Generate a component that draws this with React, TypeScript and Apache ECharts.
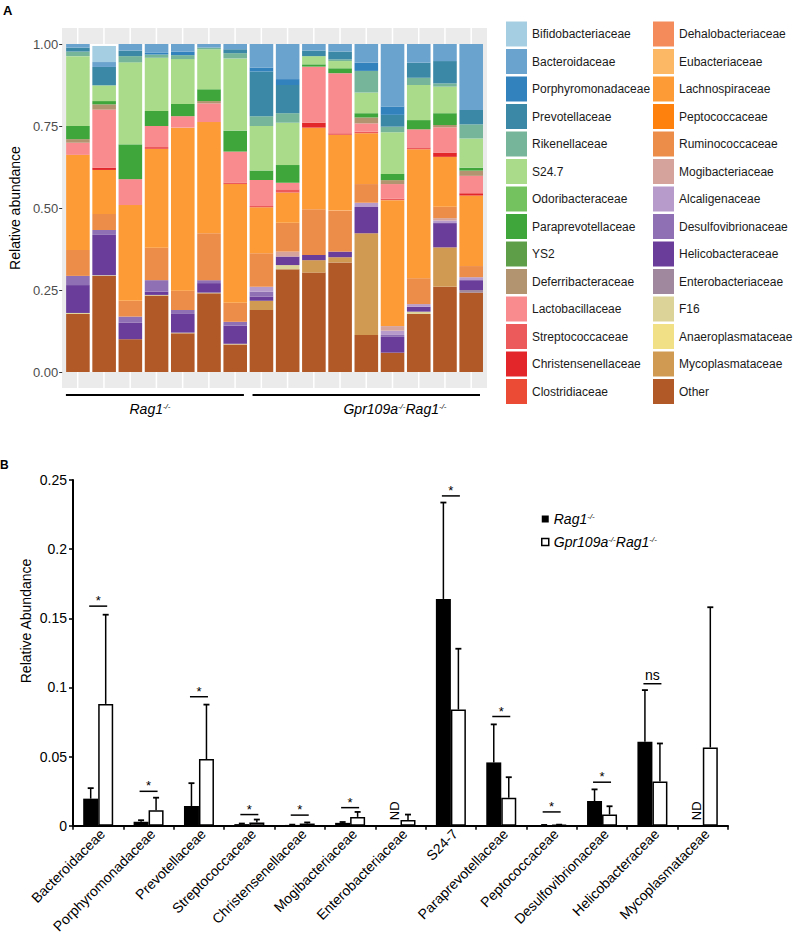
import React, { useEffect, useRef } from "react";
import * as echarts from "echarts";

const FONT = "'Liberation Sans', Arial, Helvetica, sans-serif";

// ---------- Panel A data ----------
const samplesA = [
  "Rag1-1", "Rag1-2", "Rag1-3", "Rag1-4", "Rag1-5", "Rag1-6", "Rag1-7",
  "Gpr-1", "Gpr-2", "Gpr-3", "Gpr-4", "Gpr-5", "Gpr-6", "Gpr-7", "Gpr-8", "Gpr-9",
];

const familyNames = [
  "Bifidobacteriaceae", "Bacteroidaceae", "Porphyromonadaceae", "Prevotellaceae",
  "Rikenellaceae", "S24.7", "Odoribacteraceae", "Paraprevotellaceae", "YS2",
  "Deferribacteraceae", "Lactobacillaceae", "Streptococcaceae", "Christensenellaceae",
  "Clostridiaceae", "Dehalobacteriaceae", "Eubacteriaceae", "Lachnospiraceae",
  "Peptococcaceae", "Ruminococcaceae", "Mogibacteriaceae", "Alcaligenaceae",
  "Desulfovibrionaceae", "Helicobacteraceae", "Enterobacteriaceae", "F16",
  "Anaeroplasmataceae", "Mycoplasmataceae", "Other",
];

const familyColors = [
  "#A6CEE3", "#6AA3CE", "#3282BE", "#3B88A6", "#76B599", "#AADB8B", "#74C25F",
  "#3EA63A", "#5F9E48", "#B39470", "#F98B8E", "#EC5A5C", "#E3262A", "#EB4A34",
  "#F38B5B", "#FDB865", "#FD9C36", "#FE810E", "#EC8D49", "#D5A39B", "#B69BCB",
  "#9070B4", "#6A3D9A", "#A0889E", "#DCD399", "#F1E086", "#D19A53", "#B15A28",
];

const bifidobacteriaceae = [0, 0.049, 0, 0, 0, 0, 0, 0, 0, 0, 0, 0, 0, 0, 0, 0];
const bacteroidaceae = [0.011, 0.015, 0.02, 0.027, 0.023, 0.011, 0.016, 0.072, 0.107, 0.02, 0.023, 0.057, 0.191, 0.057, 0.052, 0.201];
const porphyromonadaceae = [0, 0, 0, 0.005, 0.011, 0, 0, 0.012, 0.018, 0, 0, 0.025, 0.025, 0, 0, 0];
const prevotellaceae = [0.012, 0.056, 0.017, 0, 0, 0, 0.012, 0.136, 0.086, 0.017, 0.024, 0, 0.036, 0.046, 0.068, 0.044];
const rikenellaceae = [0.014, 0, 0.019, 0.01, 0.012, 0.005, 0.016, 0.03, 0.029, 0, 0.005, 0.066, 0.017, 0.022, 0.01, 0.043];
const s247 = [0.213, 0.048, 0.25, 0.162, 0.137, 0.122, 0.22, 0.136, 0.129, 0.025, 0.022, 0.063, 0.127, 0.107, 0.081, 0.089];
const odoribacteraceae = [0, 0, 0, 0, 0, 0, 0, 0, 0, 0, 0, 0, 0, 0, 0, 0];
const paraprevotellaceae = [0.04, 0.01, 0.106, 0.046, 0.037, 0.036, 0.064, 0.029, 0.054, 0.007, 0.015, 0.013, 0.019, 0.028, 0.036, 0.009];
const ys2 = [0, 0, 0, 0, 0, 0, 0, 0, 0, 0, 0, 0, 0, 0, 0, 0];
const deferribacteraceae = [0.011, 0.016, 0, 0, 0, 0.007, 0, 0, 0, 0, 0, 0.018, 0.012, 0, 0.007, 0.016];
const lactobacillaceae = [0.037, 0.177, 0.079, 0.064, 0.035, 0.057, 0.094, 0.079, 0.02, 0.171, 0.183, 0.025, 0.044, 0.055, 0.077, 0.053];
const streptococcaceae = [0, 0, 0, 0.006, 0, 0, 0.005, 0.004, 0.01, 0, 0.005, 0.005, 0.005, 0.006, 0, 0];
const christensenellaceae = [0, 0.007, 0, 0, 0, 0, 0, 0, 0, 0.015, 0, 0, 0, 0, 0.013, 0.007];
const clostridiaceae = [0, 0, 0, 0, 0, 0, 0, 0, 0, 0, 0, 0, 0, 0, 0, 0];
const dehalobacteriaceae = [0, 0, 0, 0, 0, 0, 0, 0, 0, 0, 0, 0, 0, 0, 0, 0];
const eubacteriaceae = [0, 0, 0, 0, 0, 0, 0, 0, 0, 0, 0, 0, 0, 0, 0, 0];
const lachnospiraceae = [0.29, 0.134, 0.292, 0.301, 0.497, 0.339, 0.362, 0.14, 0.092, 0.249, 0.231, 0.155, 0.384, 0.393, 0.152, 0.215];
const peptococcaceae = [0, 0, 0, 0, 0, 0, 0, 0, 0, 0, 0, 0, 0, 0, 0, 0];
const ruminococcaceae = [0.079, 0.049, 0.048, 0.099, 0.059, 0.143, 0.058, 0.102, 0.088, 0.139, 0.125, 0.057, 0, 0.079, 0.035, 0.034];
const mogibacteriaceae = [0, 0, 0, 0, 0, 0, 0, 0, 0.015, 0, 0, 0, 0.014, 0, 0.007, 0];
const alcaligenaceae = [0, 0, 0, 0, 0, 0, 0, 0.015, 0, 0, 0, 0.013, 0.013, 0.008, 0.008, 0.009];
const desulfovibrionaceae = [0.028, 0.015, 0.019, 0.035, 0.012, 0.009, 0.012, 0.015, 0, 0, 0, 0, 0.006, 0, 0, 0];
const helicobacteraceae = [0.085, 0.123, 0.05, 0.01, 0.057, 0.029, 0.055, 0.013, 0.026, 0.016, 0.017, 0.08, 0.048, 0.015, 0.074, 0.03];
const enterobacteriaceae = [0, 0, 0, 0, 0, 0, 0, 0, 0, 0, 0, 0, 0, 0, 0, 0.008];
const f16 = [0.003, 0.002, 0, 0.002, 0.002, 0.002, 0.002, 0, 0.013, 0, 0, 0, 0, 0.007, 0, 0];
const anaeroplasmataceae = [0, 0, 0, 0, 0, 0, 0, 0, 0, 0, 0, 0, 0, 0, 0, 0];
const mycoplasmataceae = [0, 0, 0, 0, 0, 0, 0, 0.028, 0, 0.038, 0.016, 0.31, 0, 0, 0.12, 0];
const other = [0.177, 0.293, 0.1, 0.233, 0.118, 0.24, 0.084, 0.189, 0.313, 0.303, 0.334, 0.113, 0.059, 0.177, 0.26, 0.242];

const familyValues = [
  bifidobacteriaceae, bacteroidaceae, porphyromonadaceae, prevotellaceae, rikenellaceae,
  s247, odoribacteraceae, paraprevotellaceae, ys2, deferribacteraceae, lactobacillaceae,
  streptococcaceae, christensenellaceae, clostridiaceae, dehalobacteriaceae, eubacteriaceae,
  lachnospiraceae, peptococcaceae, ruminococcaceae, mogibacteriaceae, alcaligenaceae,
  desulfovibrionaceae, helicobacteraceae, enterobacteriaceae, f16, anaeroplasmataceae,
  mycoplasmataceae, other,
];

// ---------- Panel B data ----------
const categoriesB = [
  "Bacteroidaceae", "Porphyromonadaceae", "Prevotellaceae", "Streptococcaceae",
  "Christensenellaceae", "Mogibacteriaceae", "Enterobacteriaceae", "S24-7",
  "Paraprevotellaceae", "Peptococcaceae", "Desulfovibrionaceae", "Helicobacteraceae",
  "Mycoplasmataceae",
];
const rag1Mean = [0.0196, 0.0029, 0.0143, 0.0012, 0.0006, 0.0021, null, 0.164, 0.0458, 0.0005, 0.0179, 0.0607, null];
const rag1Err = [0.0076, 0.0011, 0.0165, 0.0004, 0.0002, 0.0006, null, 0.0697, 0.0275, 0.0001, 0.0084, 0.0374, null];
const gprMean = [0.0881, 0.0112, 0.0482, 0.0024, 0.0016, 0.0064, 0.0041, 0.084, 0.0203, 0.0006, 0.0081, 0.032, 0.0566];
const gprErr = [0.0645, 0.0091, 0.0394, 0.0021, 0.0008, 0.0036, 0.004, 0.044, 0.0148, 0.0002, 0.006, 0.0275, 0.1014];
const sigY = [0.1588, 0.0249, 0.0933, 0.0081, 0.0077, 0.0131, null, 0.2385, 0.079, 0.01, 0.0315, 0.1027, null];
const sigLabel = ["*", "*", "*", "*", "*", "*", "", "*", "*", "*", "*", "ns", ""];
const groupNamesB = ["Rag1-/-", "Gpr109a-/-Rag1-/-"];

// ---------- layout ----------
const GA = { left: 64.6, top: 44, width: 419.7, height: 328 };
const GB = { left: 73, top: 480, width: 655, height: 349 };
const BAR_W_B = 15;

const supRich = {
  i: { fontStyle: "italic", fontSize: 14, fontFamily: FONT, color: "#000" },
  s: { fontStyle: "italic", fontSize: 8, fontFamily: FONT, color: "#000", verticalAlign: "top" },
};

export default function App() {
  const ref = useRef<HTMLDivElement>(null);

  useEffect(() => {
    if (!ref.current) return;
    const chart = echarts.init(ref.current, null, { renderer: "svg" });

    const bandA = GA.width / samplesA.length;
    const stripLines: any[] = [];
    samplesA.forEach((_, i) => {
      const x = GA.left + (i + 0.5) * bandA;
      stripLines.push({ type: "line", shape: { x1: x, y1: 28, x2: x, y2: GA.top }, style: { stroke: "#fff", lineWidth: 1.5 } });
      stripLines.push({ type: "line", shape: { x1: x, y1: GA.top + GA.height, x2: x, y2: 388 }, style: { stroke: "#fff", lineWidth: 1.5 } });
    });
    const barLeft = (i: number) => GA.left + i * bandA + 0.05 * bandA;
    const barRight = (i: number) => GA.left + (i + 1) * bandA - 0.05 * bandA;

    const seriesA = familyNames
      .map((name, k) => ({
        name,
        type: "bar",
        stack: "total",
        xAxisIndex: 0,
        yAxisIndex: 0,
        barWidth: "90%",
        itemStyle: { color: familyColors[k] },
        data: familyValues[k],
      }))
      .reverse();

    const errSeries = (means: (number | null)[], errs: (number | null)[], off: number) => ({
      type: "custom",
      xAxisIndex: 1,
      yAxisIndex: 1,
      z: 5,
      renderItem: (params: any, api: any) => {
        const i = api.value(0);
        const m = api.value(1);
        const e = api.value(2);
        const base = api.coord([i, m]);
        const top = api.coord([i, m + e]);
        const x = base[0] + off;
        return {
          type: "group",
          children: [
            { type: "line", shape: { x1: x, y1: base[1], x2: x, y2: top[1] }, style: { stroke: "#000", lineWidth: 1.5 } },
            { type: "line", shape: { x1: x - 3, y1: top[1], x2: x + 3, y2: top[1] }, style: { stroke: "#000", lineWidth: 1.8 } },
          ],
        };
      },
      data: means
        .map((m, i) => (m === null ? null : [i, m, errs[i] as number]))
        .filter((d) => d !== null),
    });

    const option: any = {
      animation: false,
      textStyle: { fontFamily: FONT },
      grid: [
        { left: GA.left, top: GA.top, width: GA.width, height: GA.height },
        { left: GB.left, top: GB.top, width: GB.width, height: GB.height },
      ],
      xAxis: [
        {
          type: "category",
          gridIndex: 0,
          data: samplesA,
          axisLine: { show: false },
          axisTick: { show: false },
          axisLabel: { show: false },
          splitLine: { show: false },
        },
        {
          type: "category",
          gridIndex: 1,
          data: categoriesB,
          axisLine: { show: true, lineStyle: { color: "#000", width: 2 } },
          axisTick: { show: true, length: 4, lineStyle: { color: "#000", width: 1.5 } },
          axisLabel: { rotate: 45, interval: 0, fontSize: 14, color: "#000", margin: 10, padding: [0, -6, 0, 0], fontFamily: FONT },
        },
      ],
      yAxis: [
        {
          type: "value",
          gridIndex: 0,
          min: 0,
          max: 1,
          interval: 0.25,
          offset: 2.6,
          axisLine: { show: false },
          axisTick: { show: true, length: 3, lineStyle: { color: "#333", width: 1 } },
          axisLabel: { fontSize: 13, color: "#4D4D4D", margin: 4, fontFamily: FONT, formatter: (v: number) => v.toFixed(2) },
          splitLine: { show: false },
          name: "Relative abundance",
          nameLocation: "middle",
          nameGap: 38,
          nameRotate: 90,
          nameTextStyle: { fontSize: 14, color: "#000", fontFamily: FONT },
        },
        {
          type: "value",
          gridIndex: 1,
          min: 0,
          max: 0.25,
          interval: 0.05,
          axisLine: { show: true, lineStyle: { color: "#000", width: 2 } },
          axisTick: { show: true, length: 4, lineStyle: { color: "#000", width: 1.5 } },
          axisLabel: { fontSize: 14, color: "#000", margin: 6, fontFamily: FONT },
          splitLine: { show: false },
        },
      ],
      legend: [
        {
          data: familyNames.slice(0, 14),
          orient: "vertical",
          left: 506,
          top: 21.5,
          padding: 0,
          icon: "rect",
          itemWidth: 21,
          itemHeight: 25,
          itemGap: 2.5,
          selectedMode: false,
          textStyle: { fontSize: 12, color: "#1a1a1a", fontFamily: FONT },
        },
        {
          data: familyNames.slice(14),
          orient: "vertical",
          left: 653,
          top: 21.5,
          padding: 0,
          icon: "rect",
          itemWidth: 21,
          itemHeight: 25,
          itemGap: 2.5,
          selectedMode: false,
          textStyle: { fontSize: 12, color: "#1a1a1a", fontFamily: FONT },
        },
        {
          data: [
            { name: groupNamesB[0], icon: "rect", itemStyle: { color: "#000" } },
            { name: groupNamesB[1], icon: "rect", itemStyle: { color: "#fff", borderColor: "#000", borderWidth: 1.5 } },
          ],
          orient: "vertical",
          left: 541,
          top: 512,
          padding: 0,
          itemWidth: 7,
          itemHeight: 7,
          itemGap: 9,
          selectedMode: false,
          formatter: (name: string) =>
            name === groupNamesB[0] ? "{i|Rag1}{s|-/-}" : "{i|Gpr109a}{s|-/-}{i|Rag1}{s|-/-}",
          textStyle: { fontSize: 14, color: "#000", fontFamily: FONT, rich: supRich },
        },
      ],
      graphic: [
        { type: "rect", z: -10, shape: { x: 62, y: 28, width: 425, height: 360 }, style: { fill: "#EBEBEB" } },
        { type: "rect", z: -9, shape: { x: barLeft(0), y: GA.top, width: barRight(15) - barLeft(0), height: GA.height }, style: { fill: "#fff" } },
        ...stripLines.map((l) => ({ ...l, z: -8 })),
        { type: "text", x: 3, y: 4, style: { text: "A", fontSize: 13, fontWeight: "bold", fill: "#000", fontFamily: FONT } },
        { type: "text", x: 0, y: 459, style: { text: "B", fontSize: 12, fontWeight: "bold", fill: "#000", fontFamily: FONT } },
        { type: "line", shape: { x1: barLeft(0), y1: 395, x2: barRight(6) - 3, y2: 395 }, style: { stroke: "#000", lineWidth: 1.8 } },
        { type: "line", shape: { x1: barLeft(7) + 3, y1: 395, x2: barRight(15) - 3, y2: 395 }, style: { stroke: "#000", lineWidth: 1.8 } },
        {
          type: "text", x: 150, y: 409,
          style: { text: "{i|Rag1}{s|-/-}", rich: supRich, align: "center", verticalAlign: "middle" },
        },
        {
          type: "text", x: 395, y: 409,
          style: { text: "{i|Gpr109a}{s|-/-}{i|Rag1}{s|-/-}", rich: supRich, align: "center", verticalAlign: "middle" },
        },
        {
          type: "text", x: 26, y: 621, rotation: Math.PI / 2,
          style: { text: "Relative Abundance", fontSize: 14, fill: "#000", fontFamily: FONT, align: "center", verticalAlign: "middle" },
        },
      ],
      series: [
        ...seriesA,
        {
          name: groupNamesB[0],
          type: "bar",
          xAxisIndex: 1,
          yAxisIndex: 1,
          barWidth: BAR_W_B,
          barGap: "0%",
          itemStyle: { color: "#000" },
          data: rag1Mean.map((v) => (v === null ? "-" : v)),
        },
        {
          name: groupNamesB[1],
          type: "bar",
          xAxisIndex: 1,
          yAxisIndex: 1,
          barWidth: BAR_W_B,
          barGap: "0%",
          itemStyle: { color: "#fff", borderColor: "#000", borderWidth: 1.5 },
          data: gprMean,
        },
        errSeries(rag1Mean, rag1Err, -BAR_W_B / 2),
        errSeries(gprMean, gprErr, BAR_W_B / 2),
        {
          type: "custom",
          xAxisIndex: 1,
          yAxisIndex: 1,
          z: 6,
          renderItem: (params: any, api: any) => {
            const i = api.value(0);
            const c = api.coord([i, api.value(1)]);
            const label = sigLabel[i];
            return {
              type: "group",
              children: [
                { type: "line", shape: { x1: c[0] - 9, y1: c[1], x2: c[0] + 9, y2: c[1] }, style: { stroke: "#000", lineWidth: 1.5 } },
                {
                  type: "text", x: c[0], y: label === "ns" ? c[1] - 2 : c[1] + 1,
                  style: { text: label, fontSize: label === "ns" ? 14 : 13, fill: "#000", fontFamily: FONT, align: "center", verticalAlign: "bottom" },
                },
              ],
            };
          },
          data: sigY.map((v, i) => (v === null ? null : [i, v])).filter((d) => d !== null),
        },
        {
          type: "custom",
          xAxisIndex: 1,
          yAxisIndex: 1,
          z: 6,
          renderItem: (params: any, api: any) => {
            const c = api.coord([api.value(0), 0]);
            return {
              type: "text", x: c[0] - BAR_W_B / 2 + 1, y: c[1] - 15, rotation: Math.PI / 2,
              style: { text: "ND", fontSize: 13, fill: "#000", fontFamily: FONT, align: "center", verticalAlign: "middle" },
            };
          },
          data: rag1Mean.map((v, i) => (v === null ? [i, 0] : null)).filter((d) => d !== null),
        },
      ],
    };

    chart.setOption(option);
    return () => chart.dispose();
  }, []);

  return <div ref={ref} style={{ position: "absolute", left: 0, top: 0, width: 800, height: 936 }} />;
}
